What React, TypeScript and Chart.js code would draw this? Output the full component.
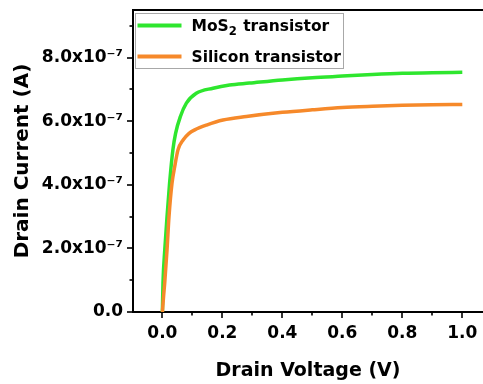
import React, { useEffect, useRef } from "react";
import { Chart, registerables } from "chart.js";

Chart.register(...registerables);

// ---- data ----
const mosVoltage = [0, 0.002, 0.008, 0.0155, 0.024, 0.035, 0.044, 0.06, 0.08, 0.113, 0.169, 0.224, 0.29, 0.4, 0.5, 0.6, 0.7, 0.8, 0.9, 1.0];
const mosCurrent = [0, 0.91e-7, 1.96e-7, 3.0e-7, 4.05e-7, 5.1e-7, 5.62e-7, 6.15e-7, 6.57e-7, 6.88e-7, 7.04e-7, 7.14e-7, 7.2e-7, 7.3e-7, 7.37e-7, 7.42e-7, 7.47e-7, 7.51e-7, 7.53e-7, 7.54e-7];

const siVoltage = [0, 0.004, 0.0077, 0.0155, 0.022, 0.032, 0.041, 0.052, 0.069, 0.089, 0.108, 0.147, 0.202, 0.28, 0.4, 0.5, 0.6, 0.7, 0.8, 0.9, 1.0];
const siCurrent = [0, 0.5e-7, 0.91e-7, 1.96e-7, 3.0e-7, 4.05e-7, 4.57e-7, 5.1e-7, 5.41e-7, 5.62e-7, 5.73e-7, 5.88e-7, 6.04e-7, 6.15e-7, 6.28e-7, 6.36e-7, 6.43e-7, 6.47e-7, 6.5e-7, 6.52e-7, 6.53e-7];

const seriesLabels = ["MoS₂ transistor", "Silicon transistor"];
const xTitle = "Drain Voltage (V)";
const yTitle = "Drain Current (A)";
const xTickStep = 0.1;
const yTickStep = 1e-7;
const yMajorLabels = ["0.0", "2.0x10⁻⁷", "4.0x10⁻⁷", "6.0x10⁻⁷", "8.0x10⁻⁷"];

const GREEN = "#2ee62e";
const ORANGE = "#f6892a";
const FONT = "'DejaVu Sans', 'Liberation Sans', sans-serif";

const SUBS: Record<string, string> = { "₀": "0", "₁": "1", "₂": "2", "₃": "3", "₄": "4", "₅": "5", "₆": "6", "₇": "7", "₈": "8", "₉": "9" };

function drawRich(ctx: CanvasRenderingContext2D, text: string, x: number, y: number, size: number) {
  let cx = x;
  for (const ch of Array.from(text)) {
    if (SUBS[ch]) {
      ctx.font = `bold ${size * 0.75}px ${FONT}`;
      ctx.fillText(SUBS[ch], cx, y + size * 0.35);
      cx += ctx.measureText(SUBS[ch]).width + 1;
    } else {
      ctx.font = `bold ${size}px ${FONT}`;
      ctx.fillText(ch, cx, y);
      cx += ctx.measureText(ch).width;
    }
  }
}

const zeroPad = (s: any) => {
  s.paddingTop = 0;
  s.paddingBottom = 0;
  s.paddingLeft = 0;
  s.paddingRight = 0;
};

const decorPlugin = {
  id: "decor",
  afterDraw(chart: any) {
    const ctx: CanvasRenderingContext2D = chart.ctx;
    const { left, right, top, bottom } = chart.chartArea;
    const xs = chart.scales.x;
    const ys = chart.scales.y;
    ctx.save();
    ctx.strokeStyle = "#000";
    ctx.lineWidth = 1.6;
    ys.ticks.forEach((t: any) => {
      const n = Math.round(t.value / yTickStep);
      const len = n % 2 === 0 ? 6 : 3.5;
      const py = Math.round(ys.getPixelForValue(t.value));
      ctx.beginPath();
      ctx.moveTo(left - len, py);
      ctx.lineTo(left, py);
      ctx.stroke();
    });
    xs.ticks.forEach((t: any) => {
      const n = Math.round(t.value / xTickStep);
      const len = n % 2 === 0 ? 6 : 3.5;
      const px = Math.round(xs.getPixelForValue(t.value));
      ctx.beginPath();
      ctx.moveTo(px, bottom);
      ctx.lineTo(px, bottom + len);
      ctx.stroke();
    });
    // top frame line
    ctx.lineWidth = 2;
    ctx.beginPath();
    ctx.moveTo(left - 1, top);
    ctx.lineTo(right, top);
    ctx.stroke();

    // legend
    const lx = 135.5, ly = 13.5, lw = 208, lh = 55;
    ctx.fillStyle = "#fff";
    ctx.fillRect(lx, ly, lw, lh);
    ctx.strokeStyle = "#a8a8a8";
    ctx.lineWidth = 1;
    ctx.strokeRect(lx, ly, lw, lh);
    const rows = [25.5, 56.5];
    chart.data.datasets.forEach((ds: any, i: number) => {
      const ry = rows[i];
      ctx.strokeStyle = ds.borderColor;
      ctx.lineWidth = 4;
      ctx.beginPath();
      ctx.moveTo(137.5, ry);
      ctx.lineTo(181.5, ry);
      ctx.stroke();
      ctx.fillStyle = "#000";
      ctx.textBaseline = "middle";
      ctx.textAlign = "left";
      drawRich(ctx, ds.label, 191.5, ry + 1, 15.5);
    });
    ctx.restore();
  },
};

export default function App() {
  const ref = useRef<HTMLCanvasElement>(null);
  useEffect(() => {
    const canvas = ref.current!;
    const chart = new Chart(canvas, {
      type: "line",
      data: {
        datasets: [
          {
            label: seriesLabels[0],
            data: mosVoltage.map((v, i) => ({ x: v, y: mosCurrent[i] })),
            borderColor: GREEN,
            backgroundColor: GREEN,
            borderWidth: 3.5,
            pointRadius: 0,
            cubicInterpolationMode: "monotone",
            order: 2,
          },
          {
            label: seriesLabels[1],
            data: siVoltage.map((v, i) => ({ x: v, y: siCurrent[i] })),
            borderColor: ORANGE,
            backgroundColor: ORANGE,
            borderWidth: 3.5,
            pointRadius: 0,
            cubicInterpolationMode: "monotone",
            order: 1,
          },
        ],
      },
      options: {
        animation: false,
        responsive: false,
        devicePixelRatio: 1,
        layout: { padding: { top: 10, left: 0, right: 0, bottom: 0 } },
        plugins: { legend: { display: false }, tooltip: { enabled: false } },
        scales: {
          x: {
            type: "linear",
            min: -0.098,
            max: 1.069,
            afterFit: (s: any) => { s.height = 72; zeroPad(s); },
            grid: { display: false, drawTicks: false },
            border: { display: true, width: 2, color: "#000" },
            ticks: {
              stepSize: xTickStep,
              includeBounds: false,
              autoSkip: false,
              maxRotation: 0,
              padding: 11,
              color: "#000",
              font: { family: FONT, size: 17, weight: "bold" },
              callback: (v: any) => {
                const n = Math.round(Number(v) / xTickStep);
                return n % 2 === 0 ? (n / 10).toFixed(1) : "";
              },
            },
            title: {
              display: true,
              text: xTitle,
              color: "#000",
              font: { family: FONT, size: 19, weight: "bold", lineHeight: 1.2 },
              padding: { top: 0, bottom: 2 },
            },
          },
          y: {
            type: "linear",
            min: 0,
            max: 9.5e-7,
            afterFit: (s: any) => { s.width = 133; zeroPad(s); },
            grid: { display: false, drawTicks: false },
            border: { display: true, width: 2, color: "#000" },
            ticks: {
              stepSize: yTickStep,
              includeBounds: false,
              autoSkip: false,
              padding: 10,
              color: "#000",
              font: { family: FONT, size: 17, weight: "bold" },
              callback: (v: any) => {
                const n = Math.round(Number(v) / yTickStep);
                return n % 2 === 0 ? yMajorLabels[n / 2] ?? "" : "";
              },
            },
            title: {
              display: true,
              text: yTitle,
              color: "#000",
              font: { family: FONT, size: 20, weight: "bold", lineHeight: 1.2 },
              padding: { top: 11, bottom: 0 },
            },
          },
        },
      },
      plugins: [decorPlugin],
    } as any);
    return () => chart.destroy();
  }, []);
  return (
    <div style={{ position: "fixed", left: 0, top: 0, width: 483, height: 384, background: "#fff" }}>
      <canvas ref={ref} width={483} height={384} style={{ width: 483, height: 384, display: "block" }} />
    </div>
  );
}
